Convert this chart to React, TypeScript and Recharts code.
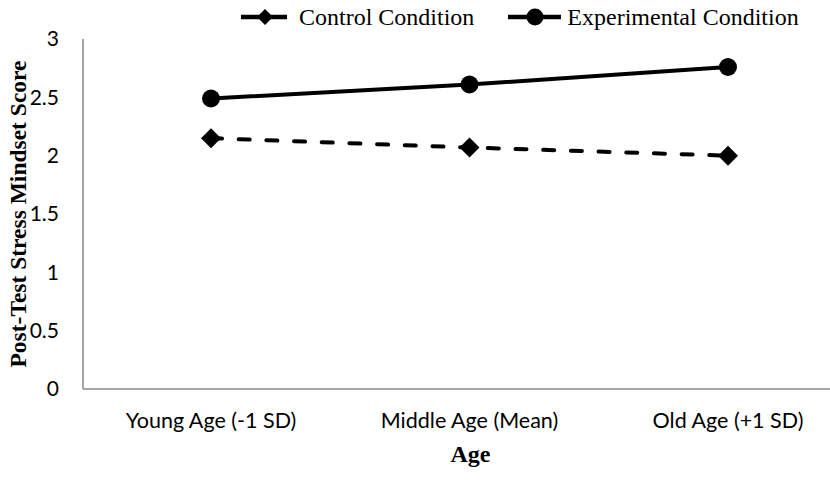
import React from 'react';
import { LineChart, Line, XAxis, YAxis, Legend, Label } from 'recharts';

const ageGroups = ['Young Age (-1 SD)', 'Middle Age (Mean)', 'Old Age (+1 SD)'];
const controlScores = [2.15, 2.07, 2.0];
const experimentalScores = [2.49, 2.61, 2.76];
const yTicks = [0, 0.5, 1, 1.5, 2, 2.5, 3];

const data = ageGroups.map((age, i) => ({
  age,
  control: controlScores[i],
  experimental: experimentalScores[i],
}));

const serif = '"Liberation Serif", "Times New Roman", serif';
const sans = 'Lato, "Liberation Sans", sans-serif';

// diamond marker for the control line
const Diamond = (props: any) => {
  const { cx, cy } = props;
  if (cx == null || cy == null) return null;
  return <polygon points={`${cx},${cy - 10} ${cx + 10},${cy} ${cx},${cy + 10} ${cx - 10},${cy}`} fill="#000" />;
};

const LegendContent = () => (
  <div style={{ display: 'flex', alignItems: 'center', height: 30, fontFamily: serif, fontSize: 24, color: '#000', whiteSpace: 'nowrap' }}>
    <svg width={46} height={22}>
      <line x1={0} y1={11} x2={46} y2={11} stroke="#000" strokeWidth={4.5} />
      <polygon points="24,3 32,11 24,19 16,11" fill="#000" />
    </svg>
    <span style={{ marginLeft: 12 }}>Control Condition</span>
    <svg width={53} height={22} style={{ marginLeft: 34 }}>
      <line x1={0} y1={11} x2={53} y2={11} stroke="#000" strokeWidth={4.5} />
      <circle cx={27} cy={11} r={8.5} fill="#000" />
    </svg>
    <span style={{ marginLeft: 6 }}>Experimental Condition</span>
  </div>
);

const YTitle = (props: any) => {
  const { viewBox } = props;
  const cy = viewBox.y + viewBox.height / 2;
  return (
    <text x={26} y={cy} transform={`rotate(-90, 26, ${cy})`} textAnchor="middle" fontFamily={serif} fontWeight="bold" fontSize={23.5} fill="#000">
      Post-Test Stress Mindset Score
    </text>
  );
};

const XTitle = (props: any) => {
  const { viewBox } = props;
  return (
    <text x={viewBox.x + viewBox.width / 2} y={462} textAnchor="middle" fontFamily={serif} fontWeight="bold" fontSize={24} fill="#000">
      Age
    </text>
  );
};

export default function App() {
  return (
    <div style={{ position: 'absolute', left: 0, top: 0, width: 830, height: 494, overflow: 'hidden', background: '#fff' }}>
      <LineChart width={858} height={494} data={data} margin={{ top: 9, right: 0, bottom: 45, left: 23 }}>
        <Legend verticalAlign="top" content={<LegendContent />} wrapperStyle={{ top: 2, left: 241, width: 'auto' }} />
        <XAxis
          dataKey="age"
          height={60}
          padding={{ left: 128, right: 130 }}
          axisLine={{ stroke: '#898989', strokeWidth: 1.5 }}
          tickLine={false}
          tickSize={0}
          tickMargin={24}
          tick={{ fill: '#000', fontFamily: sans, fontSize: 21.5 }}
        >
          <Label content={<XTitle />} />
        </XAxis>
        <YAxis
          width={60}
          domain={[0, 3]}
          ticks={yTicks}
          axisLine={{ stroke: '#898989', strokeWidth: 1.5 }}
          tickLine={false}
          tickSize={0}
          tickMargin={24}
          tick={{ fill: '#000', fontFamily: sans, fontSize: 21 }}
        >
          <Label content={<YTitle />} />
        </YAxis>
        <Line
          dataKey="control"
          stroke="#000"
          strokeWidth={4}
          strokeDasharray="11 16.7"
          strokeLinecap="round"
          dot={<Diamond />}
          activeDot={false}
          isAnimationActive={false}
        />
        <Line
          dataKey="experimental"
          stroke="#000"
          strokeWidth={4}
          dot={{ r: 9, fill: '#000', stroke: 'none' }}
          activeDot={false}
          isAnimationActive={false}
        />
      </LineChart>
    </div>
  );
}
